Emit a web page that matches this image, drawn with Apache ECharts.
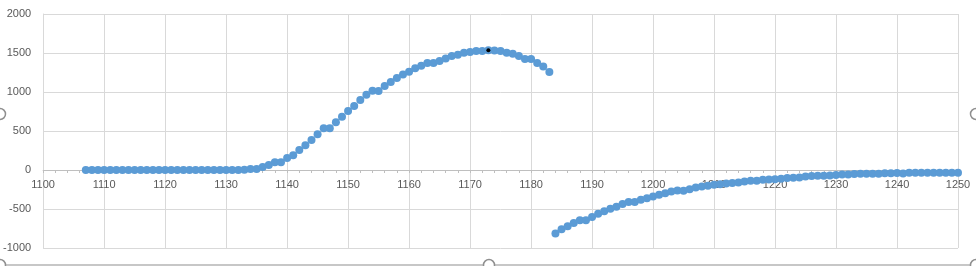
<!DOCTYPE html>
<html>
<head>
<meta charset="utf-8">
<script src="https://cdn.jsdelivr.net/npm/echarts@6/dist/echarts.min.js"></script>
<style>
html,body{margin:0;padding:0;background:#fff;}
#chart{width:976px;height:266px;}
</style>
</head>
<body>
<div id="chart"></div>
<script>
// Segment 1 (rising arc)
var xs1 = [1107,1108,1109,1110,1111,1112,1113,1114,1115,1116,1117,1118,1119,1120,
  1121,1122,1123,1124,1125,1126,1127,1128,1129,1130,1131,1132,1133,1134,1135,1136,
  1137,1138,1139,1140,1141,1142,1143,1144,1145,1146,1147,1148,1149,1150,1151,1152,
  1153,1154,1155,1156,1157,1158,1159,1160,1161,1162,1163,1164,1165,1166,1167,1168,
  1169,1170,1171,1172,1173,1174,1175,1176,1177,1178,1179,1180,1181,1182,1183];
var ys1 = [0,0,0,0,0,0,0,0,0,0,0,0,0,0,
  0,0,0,0,0,0,0,0,0,0,0,0,3,13,13,39,
  64,99,99,154,189,257,317,386,459,536,536,613,682,755,819,897,
  965,1017,1012,1077,1128,1180,1223,1261,1304,1338,1373,1373,1398,1429,1463,1476,
  1502,1514,1527,1527,1536,1532,1527,1502,1489,1463,1424,1424,1373,1326,1257];
// Segment 2 (negative branch)
var xs2 = [1184,1185,1186,1187,1188,1189,1190,1191,1192,1193,1194,1195,1196,1197,
  1198,1199,1200,1201,1202,1203,1204,1205,1206,1207,1208,1209,1210,1211,1212,1213,
  1214,1215,1216,1217,1218,1219,1220,1221,1222,1223,1224,1225,1226,1227,1228,1229,
  1230,1231,1232,1233,1234,1235,1236,1237,1238,1239,1240,1241,1242,1243,1244,1245,
  1246,1247,1248,1249,1250];
var ys2 = [-814,-760,-720,-680,-643,-645,-604,-562,-528,-498,-470,-435,-409,-410,
  -383,-363,-340,-316,-299,-277,-264,-266,-247,-225,-210,-201,-189,-182,-172,-167,
  -159,-148,-139,-139,-126,-122,-117,-113,-104,-100,-96,-83,-78,-74,-74,-70,
  -65,-57,-57,-52,-48,-48,-48,-48,-43,-43,-39,-46,-35,-35,-35,-35,
  -35,-35,-35,-35,-35];
// Highlighted (selected) point
var selX = [1173];
var selY = [1536];
// Axis ticks
var xMin = 1100, xMax = 1250, xStep = 10;
var yMin = -1000, yMax = 2000, yStep = 500;

function pairs(xs, ys){ return xs.map(function(x,i){ return [x, ys[i]]; }); }

var gridTop = 14, gridBottom = 18, H = 266;
var plotH = H - gridTop - gridBottom;
// x axis crosses at y = 0: shift it up from the bottom edge by the zero position
var zeroOffset = -plotH * (0 - yMin) / (yMax - yMin);

var chart = echarts.init(document.getElementById('chart'), null, {renderer:'canvas'});
var labelStyle = {color:'#595959', fontSize:11, fontFamily:'Liberation Sans, Arial, sans-serif',
  formatter:function(v){ return String(v); }};
chart.setOption({
  animation:false,
  backgroundColor:'#ffffff',
  grid:{left:42, right:18, top:gridTop, bottom:gridBottom, containLabel:false},
  xAxis:{
    type:'value', min:xMin, max:xMax, interval:xStep, position:'bottom', offset:zeroOffset,
    axisLine:{show:true, onZero:false, lineStyle:{color:'#BFBFBF', width:1}},
    axisTick:{show:true, length:3, lineStyle:{color:'#BFBFBF'}},
    minorTick:{show:true, splitNumber:5, length:3, lineStyle:{color:'#BFBFBF'}},
    axisLabel:Object.assign({margin:9}, labelStyle),
    splitLine:{show:true, lineStyle:{color:'#D9D9D9', width:1}}
  },
  yAxis:{
    type:'value', min:yMin, max:yMax, interval:yStep,
    axisLine:{show:true, onZero:false, lineStyle:{color:'#D9D9D9', width:1}},
    axisTick:{show:false},
    axisLabel:Object.assign({margin:12}, labelStyle),
    splitLine:{show:true, lineStyle:{color:'#D9D9D9', width:1}}
  },
  series:[
    {type:'scatter', data:pairs(xs1, ys1), symbol:'circle', symbolSize:8,
     itemStyle:{color:'#5B9BD5', opacity:1}, silent:true},
    {type:'scatter', data:pairs(xs2, ys2), symbol:'circle', symbolSize:8,
     itemStyle:{color:'#5B9BD5', opacity:1}, silent:true},
    {type:'scatter', data:pairs(selX, selY), symbol:'circle', symbolSize:4,
     itemStyle:{color:'#000000', opacity:1}, silent:true, z:5}
  ],
  graphic:[
    {type:'line', shape:{x1:0, y1:265, x2:976, y2:265}, style:{stroke:'#8F8F8F', lineWidth:1}, silent:true},
    {type:'circle', shape:{cx:0, cy:114, r:5.5}, style:{fill:'#ffffff', stroke:'#8F8F8F', lineWidth:1.5}, silent:true},
    {type:'circle', shape:{cx:976, cy:114, r:5.5}, style:{fill:'#ffffff', stroke:'#8F8F8F', lineWidth:1.5}, silent:true},
    {type:'circle', shape:{cx:489, cy:265, r:5.5}, style:{fill:'#ffffff', stroke:'#8F8F8F', lineWidth:1.5}, silent:true},
    {type:'circle', shape:{cx:0, cy:265, r:5.5}, style:{fill:'#ffffff', stroke:'#8F8F8F', lineWidth:1.5}, silent:true},
    {type:'circle', shape:{cx:976, cy:265, r:5.5}, style:{fill:'#ffffff', stroke:'#8F8F8F', lineWidth:1.5}, silent:true}
  ]
});
</script>
</body>
</html>
